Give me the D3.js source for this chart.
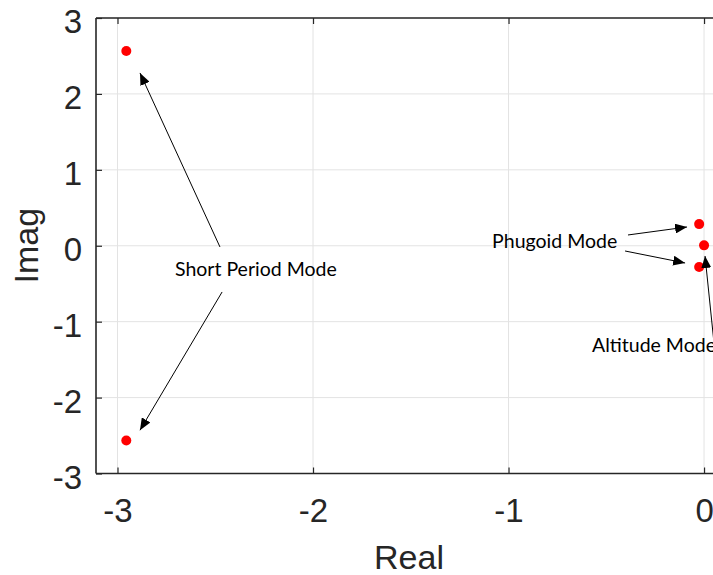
<!DOCTYPE html>
<html>
<head>
<meta charset="utf-8">
<script src="https://cdn.jsdelivr.net/npm/d3@7"></script>
<style>
  body { margin: 0; background: #fff; }
  svg { display: block; }
</style>
</head>
<body>
<svg id="chart"></svg>
<script>
// Pole locations (real, imag)
const poleReal = [-2.955, -2.955, -0.025, -0.025, 0.0];
const poleImag = [2.565, -2.565, 0.285, -0.28, 0.005];

const xTicks = [-3, -2, -1, 0];
const yTicks = [-3, -2, -1, 0, 1, 2, 3];

// annotation text, anchor in data units
const noteText = ['Short Period Mode', 'Phugoid Mode', 'Altitude Mode'];
const noteX = [-2.706, -1.084, -0.573];
const noteY = [-0.399, -0.03, -1.40];

// arrows: tail -> head, data units
const arrowX0 = [-2.476, -2.465, -0.389, -0.404, 0.066];
const arrowY0 = [-0.016, -0.609, 0.142, -0.069, -1.66];
const arrowX1 = [-2.885, -2.885, -0.087, -0.097, 0.005];
const arrowY1 = [2.276, -2.43, 0.247, -0.227, -0.135];

const width = 713, height = 575;
const margin = { left: 96, top: 18 };
const plotW = 627.6, plotH = 455.5;

const svg = d3.select('#chart')
  .attr('width', width)
  .attr('height', height);

const x = d3.scaleLinear().domain([-3.11, 0.1]).range([margin.left, margin.left + plotW]);
const y = d3.scaleLinear().domain([-3, 3]).range([margin.top + plotH, margin.top]);

const axisColor = '#262626';
const fmt = d => String(d); // plain hyphen minus, like matlab

// Grid
const grid = svg.append('g').attr('stroke', '#e3e3e3').attr('stroke-width', 1);
grid.selectAll('.gx').data(xTicks).enter().append('line')
  .attr('x1', d => x(d)).attr('x2', d => x(d))
  .attr('y1', y(-3)).attr('y2', y(3));
grid.selectAll('.gy').data(yTicks).enter().append('line')
  .attr('y1', d => y(d)).attr('y2', d => y(d))
  .attr('x1', x(-3.11)).attr('x2', x(0.1));

// Axes
const xAxis = d3.axisBottom(x).tickValues(xTicks).tickSize(-6).tickPadding(25)
  .tickFormat(fmt);
const xAxisTop = d3.axisTop(x).tickValues(xTicks).tickSize(-6).tickFormat('');
const yAxis = d3.axisLeft(y).tickValues(yTicks).tickSize(-6).tickPadding(14)
  .tickFormat(fmt);

function styleAxis(g) {
  g.select('.domain').attr('stroke', axisColor).attr('stroke-width', 1.6);
  g.selectAll('.tick line').attr('stroke', axisColor).attr('stroke-width', 1.2);
  g.selectAll('.tick text')
    .attr('fill', axisColor)
    .style('font-family', '"Liberation Sans", Arial, sans-serif')
    .style('font-size', '33px');
}

svg.append('g')
  .attr('transform', `translate(0, ${y(-3)})`)
  .call(xAxis)
  .call(g => g.select('.domain').attr('d', `M${x(-3.11)},0H${x(0.1)}`))
  .call(styleAxis);

svg.append('g')
  .attr('transform', `translate(0, ${y(3)})`)
  .call(xAxisTop)
  .call(g => g.select('.domain').attr('d', `M${x(-3.11)},0H${x(0.1)}`))
  .call(styleAxis);

svg.append('g')
  .attr('transform', `translate(${x(-3.11)}, 0)`)
  .call(yAxis)
  .call(g => g.select('.domain').attr('d', `M0,${y(-3)}V${y(3)}`))
  .call(styleAxis)
  .call(g => g.selectAll('.tick text').attr('dy', '0.45em'));

// Axis labels
svg.append('text')
  .attr('x', 409)
  .attr('y', 569)
  .attr('text-anchor', 'middle')
  .attr('fill', axisColor)
  .style('font-family', '"Liberation Sans", Arial, sans-serif')
  .style('font-size', '34px')
  .text('Real');

svg.append('text')
  .attr('transform', `translate(38, ${y(0)}) rotate(-90)`)
  .attr('text-anchor', 'middle')
  .attr('fill', axisColor)
  .style('font-family', '"Liberation Sans", Arial, sans-serif')
  .style('font-size', '34px')
  .text('Imag');

// Poles
const poles = poleReal.map((r, i) => ({ re: r, im: poleImag[i] }));
svg.append('g').selectAll('circle')
  .data(poles)
  .enter()
  .append('circle')
  .attr('cx', d => x(d.re))
  .attr('cy', d => y(d.im))
  .attr('r', 5)
  .attr('fill', '#ff0000');

// Arrows
svg.append('defs').append('marker')
  .attr('id', 'head')
  .attr('viewBox', '0 0 12 10')
  .attr('refX', 12).attr('refY', 5)
  .attr('markerWidth', 12).attr('markerHeight', 10)
  .attr('markerUnits', 'userSpaceOnUse')
  .attr('orient', 'auto')
  .append('path')
  .attr('d', 'M0,0L12,5L0,10Z')
  .attr('fill', '#000');

const arrows = arrowX0.map((v, i) => ({ x0: v, y0: arrowY0[i], x1: arrowX1[i], y1: arrowY1[i] }));
svg.append('g').selectAll('line')
  .data(arrows)
  .enter()
  .append('line')
  .attr('x1', d => x(d.x0)).attr('y1', d => y(d.y0))
  .attr('x2', d => x(d.x1)).attr('y2', d => y(d.y1))
  .attr('stroke', '#000')
  .attr('stroke-width', 1)
  .attr('marker-end', 'url(#head)');

// Notes
svg.append('g').selectAll('text')
  .data(noteText)
  .enter()
  .append('text')
  .attr('x', (d, i) => x(noteX[i]))
  .attr('y', (d, i) => y(noteY[i]))
  .attr('fill', '#000')
  .style('font-family', 'Lato, "Open Sans", sans-serif')
  .style('font-size', '19.5px')
  .text(d => d);
</script>
</body>
</html>
